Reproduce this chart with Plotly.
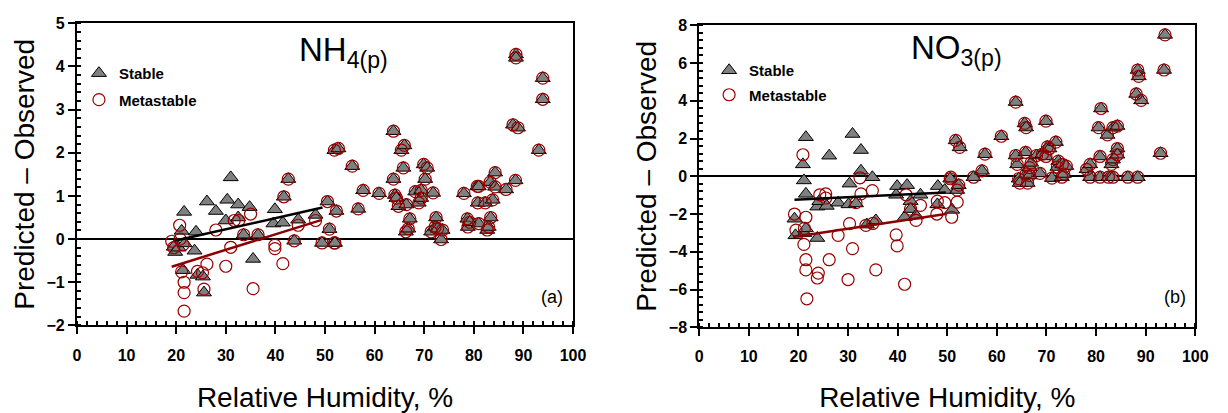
import plotly.graph_objects as go

# ---------------- Panel (a): NH4(p) ----------------
a_stable_rh = [19.5, 19.8, 20.5, 21.1, 21.6, 21.7, 21.4, 23.7, 24.0, 24.3, 25.4, 25.6, 26.2, 28.0, 30.0, 30.3,
               31.0, 32.5, 32.5, 33.6, 34.8, 35.5, 36.5, 39.6, 39.9, 41.5, 41.7, 42.6, 43.8, 44.6, 48.1, 49.4]
a_stable_val = [-0.18, -0.30, -0.20, 0.19, 0.63, -0.10, -0.72, -0.27, 0.17, -0.83, -0.87, -1.24, 0.87, 0.65, 0.43, 0.91,
                1.43, 0.80, 0.50, 0.10, 0.74, -0.46, 0.10, 0.36, 0.69, 0.38, 0.98, 1.39, -0.04, 0.45, 0.56, -0.09]
a_meta_rh = [19.1, 19.5, 20.8, 20.7, 21.4, 21.1, 21.6, 21.6, 21.6, 24.3, 25.3, 25.6, 26.2, 28.0, 30.0, 31.0,
             31.7, 32.6, 33.6, 35.0, 35.5, 36.5, 39.9, 39.9, 41.5, 41.7, 42.6, 43.8, 44.6, 48.1, 49.4]
a_meta_val = [-0.05, -0.20, 0.0, 0.32, -0.13, -0.76, -1.0, -1.24, -1.67, -0.75, -0.78, -1.16, -0.58, 0.21, -0.63, -0.19,
              0.43, 0.43, 0.10, 0.58, -1.15, 0.10, -0.14, -0.22, -0.57, 0.98, 1.39, -0.04, 0.32, 0.43, -0.09]
# high-RH points where both models agree
a_both_rh = [50.5, 50.9, 51.9, 52.0, 51.9, 52.7, 52.3, 55.5, 56.7, 57.7, 60.9, 63.8, 63.8, 64.1, 64.4, 64.8,
             65.4, 66.0, 65.8, 66.4, 66.3, 66.8, 67.1, 68.2, 68.9, 69.4, 69.4, 69.9, 70.6, 70.2, 71.4, 71.8,
             72.2, 72.4, 72.7, 73.4, 73.7, 78.0, 78.7, 78.8, 79.2, 80.7, 80.8, 81.0, 81.0, 82.3, 82.7, 83.0,
             83.3, 83.4, 83.8, 84.3, 84.3, 86.5, 87.9, 88.4, 88.5, 88.5, 88.9, 93.1, 93.9, 93.9]
a_both_val = [0.87, 0.23, -0.09, -0.09, 2.06, 2.10, 0.65, 1.69, 0.70, 1.13, 1.06, 2.50, 1.39, 1.02, 0.95, 0.76,
              2.06, 2.17, 1.65, 0.80, 0.17, 0.24, 0.47, 1.10, 0.84, 1.13, 0.95, 1.73, 1.65, 1.39, 0.17, 1.07,
              0.28, 0.50, 0.24, -0.01, 0.21, 1.06, 0.47, 0.28, 0.39, 1.22, 0.84, 1.22, 0.36, 0.84, 0.21, 0.28,
              1.32, 0.50, 0.91, 1.54, 1.21, 1.15, 2.65, 1.36, 4.28, 4.20, 2.58, 2.06, 3.73, 3.24]
a_fit_stable_rh = [19.7, 49.5]
a_fit_stable_val = [-0.04, 0.73]
a_fit_meta_rh = [19.1, 49.2]
a_fit_meta_val = [-0.64, 0.44]

# ---------------- Panel (b): NO3(p) ----------------
b_stable_rh = [19.2, 19.4, 20.9, 21.1, 21.2, 21.5, 21.5, 21.5, 23.8, 23.8, 24.2, 25.7, 26.2, 28.0, 30.1, 30.3,
               30.9, 31.6, 32.6, 32.6, 33.8, 34.9, 35.6, 39.7, 39.9, 41.4, 41.9, 42.6, 42.6, 43.7, 44.6, 48.0,
               48.1, 49.5, 51.0]
b_stable_val = [-2.25, -3.13, 0.63, -0.22, -3.01, 2.07, -0.93, -2.76, -1.61, -3.27, -1.32, -1.57, 1.09, -1.40, -1.49, -0.39,
                2.24, -1.44, 1.39, 0.29, -2.56, -0.05, -2.34, -0.98, -0.52, -2.17, -0.47, -1.32, -1.74, -2.08, -0.98, -1.49,
                -0.52, -0.73, -1.78]
b_meta_rh = [19.2, 19.5, 20.9, 21.1, 21.2, 21.5, 21.5, 21.5, 21.7, 23.8, 24.0, 24.3, 25.5, 25.5, 26.2, 28.0,
             30.0, 30.3, 30.9, 31.6, 32.4, 32.6, 33.6, 34.9, 35.0, 35.6, 39.7, 39.9, 41.4, 41.7, 42.6, 43.7,
             44.6, 47.9, 48.0, 49.5, 50.7, 50.9, 52.0]
b_meta_val = [-2.0, -2.85, 1.14, -3.61, -2.76, -2.17, -4.42, -4.96, -6.49, -5.39, -5.13, -0.98, -0.93, -1.15, -4.42, -3.13,
              -5.47, -2.51, -3.83, -1.40, -0.08, -0.93, -2.6, -0.76, -2.5, -4.96, -3.10, -3.69, -5.72, -0.98, -1.74, -2.34,
              -1.54, -2.0, -1.32, -1.40, -0.05, -2.17, -1.37]
b_both_rh = [50.6, 51.7, 52.0, 52.3, 52.5, 55.3, 57.0, 57.6, 60.9, 63.8, 63.8, 64.1, 64.4, 64.6, 65.6, 65.8,
             65.9, 65.9, 66.2, 66.6, 66.6, 66.9, 68.0, 68.7, 69.2, 69.9, 69.9, 70.2, 70.6, 71.1, 71.9, 72.2,
             72.4, 73.1, 73.2, 73.5, 74.0, 78.1, 78.8, 78.8, 80.5, 80.8, 80.8, 81.0, 82.3, 82.5, 83.1, 83.4,
             83.4, 83.4, 84.3, 84.3, 84.3, 86.4, 88.1, 88.4, 88.4, 88.6, 89.1, 93.0, 93.7, 93.9]
b_both_val = [-0.13, 1.90, -0.73, -0.47, 1.53, -0.05, 0.29, 1.17, 2.12, 3.93, 1.10, 0.63, -0.13, -0.36, 2.80, 1.27,
              2.58, 0.12, -0.36, 0.04, 0.46, 0.71, 1.10, 0.15, 1.17, 2.92, 1.05, 1.56, 1.47, -0.10, 1.81, 0.49,
              0.80, -0.05, 0.63, 0.12, 0.54, 0.37, 0.63, -0.05, 2.58, 1.05, -0.05, 3.59, 2.19, -0.05, 0.63, 0.88,
              2.58, -0.05, 2.66, 1.47, 1.14, -0.05, 4.36, 5.63, -0.05, 5.29, 4.02, 1.22, 5.63, 7.49]
b_fit_stable_rh = [19.2, 49.7]
b_fit_stable_val = [-1.24, -0.86]
b_fit_meta_rh = [18.9, 49.7]
b_fit_meta_val = [-3.22, -2.0]

series_names = ["Stable", "Metastable"]
panel_titles = ["NH<sub>4(p)</sub>", "NO<sub>3(p)</sub>"]
panel_tags = ["(a)", "(b)"]

FONT = "Liberation Sans, Arial, sans-serif"
TRI = dict(symbol="triangle-up", size=13, color="#808080", line=dict(color="black", width=1))
CIR = dict(symbol="circle-open", size=12, color="#9A0000", line=dict(color="#9A0000", width=1.2))

fig = go.Figure()

panels = [
    ("x", "y", "legend", a_stable_rh + a_both_rh, a_stable_val + a_both_val,
     a_meta_rh + a_both_rh, a_meta_val + a_both_val,
     a_fit_stable_rh, a_fit_stable_val, a_fit_meta_rh, a_fit_meta_val),
    ("x2", "y2", "legend2", b_stable_rh + b_both_rh, b_stable_val + b_both_val,
     b_meta_rh + b_both_rh, b_meta_val + b_both_val,
     b_fit_stable_rh, b_fit_stable_val, b_fit_meta_rh, b_fit_meta_val),
]

for (xa, ya, lg, srh, sval, mrh, mval, fsx, fsy, fmx, fmy) in panels:
    fig.add_trace(go.Scatter(x=srh, y=sval, mode="markers", marker=TRI, name=series_names[0],
                             xaxis=xa, yaxis=ya, legend=lg, legendgroup=lg + "s"))
    fig.add_trace(go.Scatter(x=mrh, y=mval, mode="markers", marker=CIR, name=series_names[1],
                             xaxis=xa, yaxis=ya, legend=lg, legendgroup=lg + "m"))
    fig.add_trace(go.Scatter(x=fsx, y=fsy, mode="lines", line=dict(color="black", width=2.5),
                             xaxis=xa, yaxis=ya, showlegend=False))
    fig.add_trace(go.Scatter(x=fmx, y=fmy, mode="lines", line=dict(color="#8B0000", width=2.5),
                             xaxis=xa, yaxis=ya, showlegend=False))

W, H = 1228, 413

def xdom(l, r):
    return [l / W, r / W]

def ydom(t, b):
    return [1 - b / H, 1 - t / H]

tickfont = dict(family=FONT, size=16, color="black", weight="bold")
titlefont = dict(family=FONT, size=28, color="black")

def xaxis_cfg(dom, anchor):
    return dict(domain=dom, anchor=anchor, range=[0, 100], dtick=10, tick0=0,
                showline=True, linecolor="black", linewidth=2, mirror=True,
                ticks="outside", ticklen=7, tickwidth=2, tickcolor="black", ticklabelstandoff=7,
                minor=dict(dtick=2, ticks="inside", ticklen=4, tickwidth=1.5, tickcolor="black"),
                showgrid=False, zeroline=False, tickfont=tickfont,
                title=dict(text="Relative Humidity, %", font=titlefont, standoff=27))

def yaxis_cfg(dom, anchor, rng, dt, mdt):
    return dict(domain=dom, anchor=anchor, range=rng, dtick=dt, tick0=0,
                showline=True, linecolor="black", linewidth=2, mirror=True,
                ticks="outside", ticklen=7, tickwidth=2, tickcolor="black",
                minor=dict(dtick=mdt, ticks="inside", ticklen=4, tickwidth=1.5, tickcolor="black"),
                showgrid=False, zeroline=True, zerolinecolor="black", zerolinewidth=1.5,
                tickfont=tickfont,
                title=dict(text="Predicted \u2013 Observed", font=titlefont, standoff=4))

fig.update_layout(
    width=W, height=H, margin=dict(l=0, r=0, t=0, b=0),
    paper_bgcolor="white", plot_bgcolor="white",
    font=dict(family=FONT, color="black"),
    xaxis=xaxis_cfg(xdom(74, 577), "y"),
    yaxis=yaxis_cfg(ydom(16, 331), "x", [-2, 5], 1, 0.2),
    xaxis2=xaxis_cfg(xdom(705, 1208), "y2"),
    yaxis2=yaxis_cfg(ydom(18, 333), "x2", [-8, 8], 2, 0.4),
    legend=dict(x=76 / W, y=1 - 51 / H, xanchor="left", yanchor="top", bgcolor="rgba(0,0,0,0)",
                font=dict(family=FONT, size=15, color="black", weight="bold"), tracegroupgap=4),
    legend2=dict(x=715 / W, y=1 - 48 / H, xanchor="left", yanchor="top", bgcolor="rgba(0,0,0,0)",
                 font=dict(family=FONT, size=15, color="black", weight="bold"), tracegroupgap=2),
    showlegend=True,
)

title_pos = [(297, 46), (918, 44)]
for (px, py), txt in zip(title_pos, panel_titles):
    fig.add_annotation(x=px / W, y=1 - py / H, xref="paper", yref="paper", xanchor="left", yanchor="middle",
                       text=txt, showarrow=False, font=dict(family=FONT, size=33, color="black"))

tag_pos = [(556, 301), (1187, 301)]
for (px, py), txt in zip(tag_pos, panel_tags):
    fig.add_annotation(x=px / W, y=1 - py / H, xref="paper", yref="paper", xanchor="center", yanchor="middle",
                       text=txt, showarrow=False, font=dict(family=FONT, size=18, color="black"))

fig.write_html("out.html")
